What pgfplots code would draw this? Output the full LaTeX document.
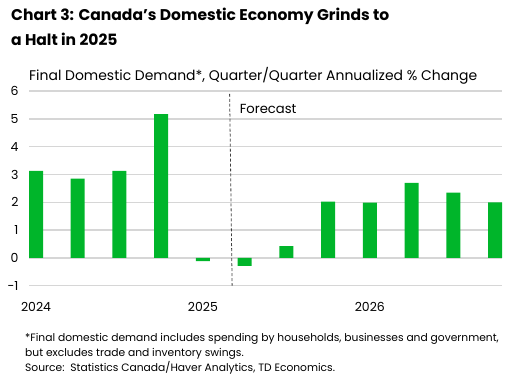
\documentclass[border=0pt]{standalone}
\usepackage{fontspec}
\setmainfont{Poppins}
\usepackage{pgfplots}
\pgfplotsset{compat=1.18}
\definecolor{tdgreen}{HTML}{00B52A}
\definecolor{gridgray}{HTML}{D6D6D6}
\begin{document}
\begin{tikzpicture}[x=1bp,y=1bp]
\path[use as bounding box] (0,0) rectangle (519,386);
\node[anchor=north west, font=\fontsize{15.6}{25}\selectfont\bfseries, align=left, inner sep=0pt] at (11,378) {Chart 3: Canada\char"0027 s Domestic Economy Grinds to\\a Halt in 2025};
\node[anchor=base west, font=\fontsize{14}{15}\selectfont, inner sep=0pt] at (29,306) {Final Domestic Demand*, Quarter/Quarter Annualized \% Change};
\begin{axis}[
  at={(29bp,100.3bp)}, anchor=south west,
  scale only axis, width=473bp, height=194.7bp,
  ymin=-1, ymax=6, ytick={-1,0,...,6},
  xmin=-0.168, xmax=11.168,
  xtick={0,4,8}, xticklabels={2024,2025,2026},
  ybar, bar width=14bp,
  axis line style={draw=none}, tick style={draw=none},
  ymajorgrids, grid style={gridgray, line width=1.4pt},
  /pgf/number format/assume math mode=true,
  ticklabel style={font=\fontsize{12.5}{14}\selectfont},
  yticklabel style={xshift=-7bp},
  xticklabel style={yshift=-9bp},
  clip=false,
]
\addplot[fill=tdgreen, draw=none] coordinates {
(0,3.13) (1,2.85) (2,3.13) (3,5.17) (4,-0.12) (5,-0.29)
(6,0.42) (7,2.02) (8,1.99) (9,2.7) (10,2.35) (11,2.0)};
\draw[densely dashed, black!75, line width=0.8pt] (axis cs:4.64,5.9) -- (axis cs:4.70,-1);
\node[anchor=base west, inner sep=0pt, font=\fontsize{13.2}{14}\selectfont] at (axis cs:4.88,5.2) {Forecast};
\end{axis}
\node[anchor=north west, font=\fontsize{10.75}{15}\selectfont, align=left, inner sep=0pt] at (25,53) {*Final domestic demand includes spending by households, businesses and government,\\but excludes trade and inventory swings.\\Source:\ \ Statistics Canada/Haver Analytics, TD Economics.};
\end{tikzpicture}
\end{document}
